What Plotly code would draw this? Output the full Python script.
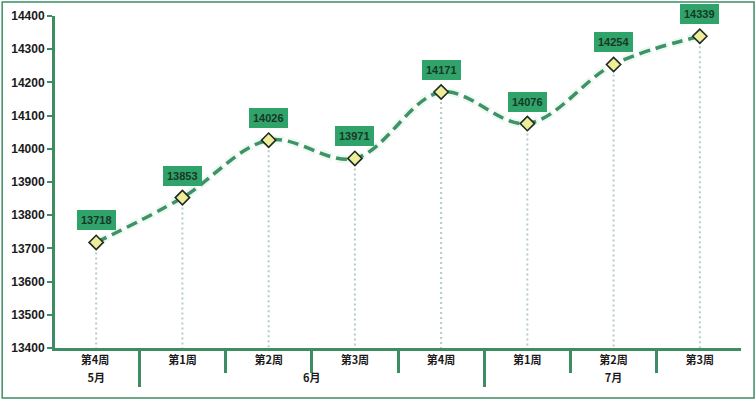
import plotly.graph_objects as go

months = ["5月", "6月", "6月", "6月", "6月", "7月", "7月", "7月"]
# trailing space on the May label keeps it a distinct category key (renders identically)
weeks = ["第4周 ", "第1周", "第2周", "第3周", "第4周", "第1周", "第2周", "第3周"]
values = [13718, 13853, 14026, 13971, 14171, 14076, 14254, 14339]
y_ticks = [13400, 13500, 13600, 13700, 13800, 13900, 14000, 14100, 14200, 14300, 14400]

GREEN = "#3f9268"
AXIS_GREEN = "#3d8c64"
LABEL_BG = "#2fa36a"

fig = go.Figure()

fig.add_trace(go.Scatter(
    x=[months, weeks], y=values, mode="lines",
    line=dict(color="rgba(150,220,180,0.18)", width=8, shape="spline", smoothing=1.0, dash="13px,4px"),
    hoverinfo="skip", showlegend=False))

# dotted drop lines
for m, w, v in zip(months, weeks, values):
    fig.add_trace(go.Scatter(
        x=[[m, m], [w, w]], y=[v, y_ticks[0]], mode="lines",
        line=dict(color="#b5cdc5", width=2, dash="2px,3px"),
        hoverinfo="skip", showlegend=False))

fig.add_trace(go.Scatter(
    x=[months, weeks], y=values, mode="lines+markers",
    line=dict(color=GREEN, width=3.5, shape="spline", smoothing=1.0, dash="11px,6px"),
    marker=dict(symbol="diamond", size=11, color="#eeee9a", line=dict(color="#1e2a22", width=1.6)),
    showlegend=False))

for i, v in enumerate(values):
    fig.add_annotation(
        x=i, y=v, xref="x", yref="y", text=f"<b>{v}</b>", showarrow=False,
        yshift=22, bgcolor=LABEL_BG, bordercolor=LABEL_BG, borderpad=3,
        font=dict(family="Liberation Sans, Arial", size=11, color="#173826"))

# outer border
fig.add_shape(type="rect", xref="paper", yref="paper",
              x0=-0.077, x1=1.019, y0=-0.1506, y1=1.042,
              line=dict(color="#3d8c64", width=1.5), layer="below")

fig.update_layout(
    width=756, height=405,
    margin=dict(l=55, r=15, t=16, b=57),
    paper_bgcolor="white", plot_bgcolor="white",
    font=dict(family="Noto Sans CJK SC, Liberation Sans", color="#1a1a1a"),
)

fig.update_xaxes(
    type="multicategory", automargin=False,
    showline=True, linecolor=AXIS_GREEN, linewidth=3,
    ticks="outside", tickson="boundaries", ticklen=22, tickwidth=3, tickcolor=AXIS_GREEN,
    showdividers=True, dividercolor=AXIS_GREEN, dividerwidth=3,
    tickfont=dict(family="Noto Sans CJK SC", size=11, color="#1a1a1a", weight="bold"),
    showgrid=False, zeroline=False,
)
fig.update_yaxes(
    range=[y_ticks[0], y_ticks[-1]], tickvals=y_ticks, tickformat="d", automargin=False,
    showline=True, linecolor=AXIS_GREEN, linewidth=3,
    ticks="outside", ticklen=5, tickwidth=2, tickcolor=AXIS_GREEN,
    tickfont=dict(family="Liberation Sans, Arial", size=12, color="#1a1a1a", weight="bold"),
    showgrid=False, zeroline=False,
)

fig.write_html("out.html", config={"displayModeBar": False},
               post_script="document.body.style.margin='0';document.body.style.overflow='hidden';")
